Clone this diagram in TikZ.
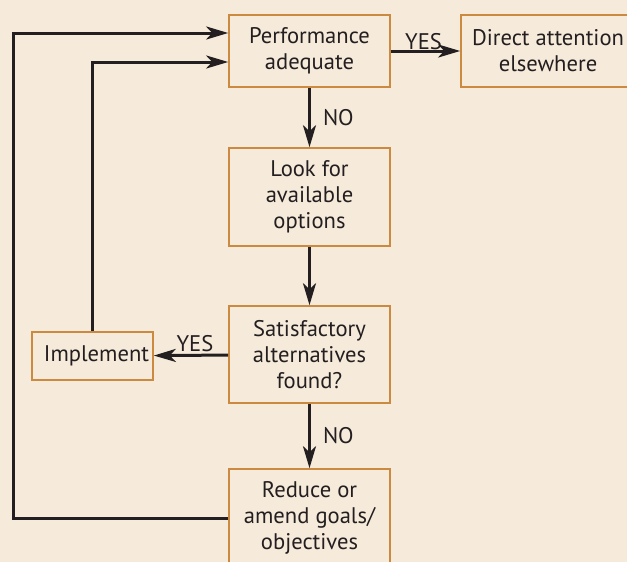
\documentclass[tikz,border=0pt]{standalone}
\usepackage{fontspec}
\setmainfont{PT Sans}
\usetikzlibrary{arrows.meta}
\definecolor{paper}{RGB}{246,234,218}
\definecolor{frame}{RGB}{204,138,64}
\definecolor{ink}{RGB}{35,31,32}
\begin{document}
\begin{tikzpicture}[x=0.5pt, y=-0.5pt, font=\fontsize{11.3}{13}\selectfont, text=ink,
  box/.style={draw=frame, line width=0.8pt, fill=paper, align=center, inner sep=0pt,
    minimum width=80.5pt},
  flow/.style={draw=ink, line width=1.5pt, -{Stealth[length=11pt, width=6.5pt, inset=3pt]}},
  tag/.style={inner sep=1pt}]
    \useasboundingbox[fill=paper] (0,0) rectangle (627,562);

    % Main column
    \node[box, minimum height=36pt] (perf) at (309.5,51) {Performance\\adequate};
    \node[box, minimum height=49pt] (look) at (309.5,197) {Look for\\available\\options};
    \node[box, minimum height=48.5pt] (sat) at (309.5,354.5) {Satisfactory\\alternatives\\found?};
    \node[box, minimum height=49pt] (reduce) at (309.5,518) {Reduce or\\amend goals/\\objectives};

    % Side boxes
    \node[box, minimum width=87pt, minimum height=36pt] (direct) at (548,51) {Direct attention\\elsewhere};
    \node[box, minimum width=60.5pt, minimum height=24pt] (impl) at (92.5,356) {\hspace{4pt}Implement};

    % Outer loop runs here
    \coordinate (back) at (13,0);

    % Connections
    \draw[flow] (perf.east) -- node[tag, above, xshift=-1pt, yshift=-1pt] {YES} (direct.west);
    \draw[flow] (perf) -- node[tag, right, xshift=5pt] {NO} (look);
    \draw[flow] (look) -- (sat);
    \draw[flow] (sat) -- node[tag, right, xshift=5pt] {NO} (reduce);
    \draw[flow] (sat) -- node[tag, above, xshift=2pt] {YES} (impl);
    \draw[flow] (impl.north) |- ([yshift=-5.5pt]perf.west);
    \draw[flow] (reduce.west) -- (reduce.west -| back) |- ([yshift=9pt]perf.west);
  \end{tikzpicture}
\end{document}
